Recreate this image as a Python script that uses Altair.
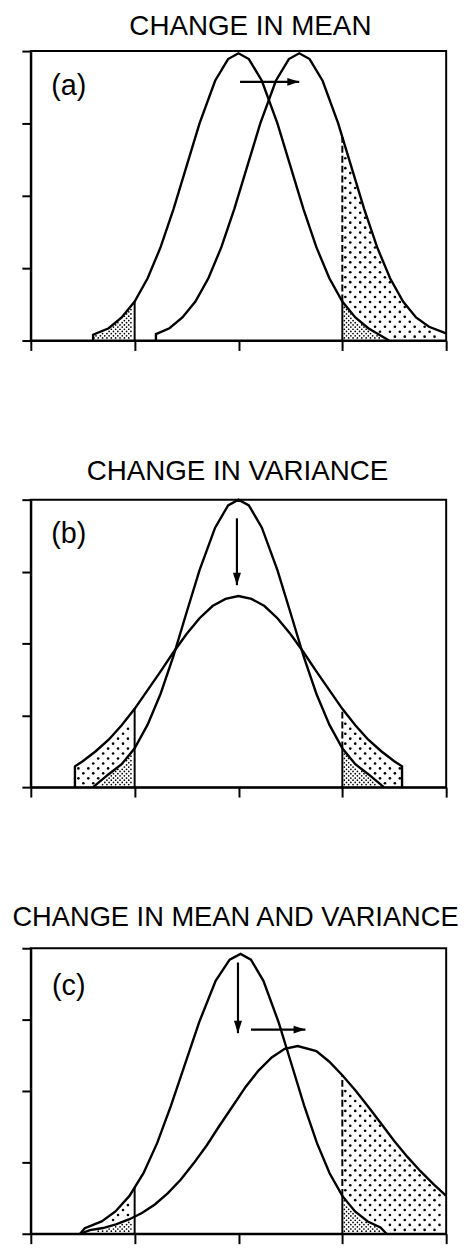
import numpy as np
import pandas as pd
import altair as alt

# ---------------- values ----------------
# x in units (ticks at -4,-2,0,2,4; shaded tails beyond +-2), y in axis units (ticks 0..4)
TITLES = ["CHANGE IN MEAN", "CHANGE IN VARIANCE", "CHANGE IN MEAN AND VARIANCE"]
LABELS = ["(a)", "(b)", "(c)"]
X_TICKS = [-4, -2, 0, 2, 4]
Y_TICKS = [0, 1, 2, 3, 4]
THRESH = [-2, 2]

# panel (a): original and shifted distribution
A1_x = [-2.8, -2.8, -2.5, -2.25, -2.0, -1.75, -1.5, -1.25, -1.0, -0.75, -0.45, -0.2, 0.0,
        0.2, 0.45, 0.75, 1.0, 1.25, 1.5, 1.75, 2.0, 2.25, 2.5, 2.9]
A1_y = [0.0, 0.08, 0.17, 0.32, 0.54, 0.86, 1.29, 1.82, 2.41, 3.0, 3.59, 3.89, 3.97,
        3.89, 3.59, 3.0, 2.41, 1.82, 1.29, 0.86, 0.54, 0.32, 0.17, 0.0]
A2_x = [-1.59, -1.59, -1.33, -1.08, -0.83, -0.58, -0.33, -0.08, 0.17, 0.42, 0.72, 0.97, 1.17,
        1.37, 1.62, 1.92, 2.17, 2.42, 2.67, 2.92, 3.17, 3.42, 3.67, 4.0]
A2_y = [0.0, 0.09, 0.17, 0.32, 0.54, 0.86, 1.29, 1.82, 2.41, 3.0, 3.59, 3.89, 3.97,
        3.89, 3.59, 3.0, 2.41, 1.82, 1.29, 0.86, 0.54, 0.32, 0.19, 0.10]

# panel (b): narrow and wide distribution
B1_x = [-2.8, -2.5, -2.25, -2.0, -1.75, -1.5, -1.25, -1.0, -0.75, -0.45, -0.2, 0.0,
        0.2, 0.45, 0.75, 1.0, 1.25, 1.5, 1.75, 2.0, 2.25, 2.5, 2.8]
B1_y = [0.0, 0.18, 0.32, 0.54, 0.87, 1.30, 1.83, 2.43, 3.02, 3.61, 3.92, 4.0,
        3.92, 3.61, 3.02, 2.43, 1.83, 1.30, 0.87, 0.54, 0.32, 0.18, 0.0]
B2_x = [-3.15, -3.15, -3.0, -2.75, -2.5, -2.25, -2.0, -1.75, -1.5, -1.25, -1.0, -0.75,
        -0.5, -0.25, 0.0, 0.25, 0.5, 0.75, 1.0, 1.25, 1.5, 1.75, 2.0, 2.25, 2.5, 2.75,
        3.0, 3.15, 3.15]
B2_y = [0.0, 0.29, 0.36, 0.50, 0.66, 0.86, 1.09, 1.35, 1.61, 1.88, 2.13, 2.35,
        2.52, 2.62, 2.66, 2.62, 2.52, 2.35, 2.13, 1.88, 1.61, 1.35, 1.09, 0.86, 0.66, 0.50,
        0.36, 0.29, 0.0]

# panel (c): narrow distribution and shifted wide distribution
C1_x = [-3.05, -2.96, -2.635, -2.37, -2.10, -1.83, -1.565, -1.30, -1.03, -0.76, -0.44, -0.17,
        0.04, 0.24, 0.48, 0.775, 1.02, 1.265, 1.51, 1.755, 2.0, 2.245, 2.49, 2.735, 2.85]
C1_y = [0.0, 0.078, 0.172, 0.312, 0.530, 0.848, 1.273, 1.795, 2.378, 2.959, 3.543, 3.84,
        3.92, 3.84, 3.543, 2.959, 2.378, 1.795, 1.273, 0.848, 0.530, 0.312, 0.172, 0.089, 0.0]
C2_x = [-3.05, -2.86, -2.61, -2.36, -2.11, -1.86, -1.61, -1.36, -1.11, -0.86, -0.61, -0.36,
        -0.11, 0.14, 0.39, 0.64, 0.89, 1.14, 1.5, 1.75, 2.0, 2.25, 2.5, 2.75, 3.0, 3.25,
        3.5, 3.75, 4.0]
C2_y = [0.0, 0.05, 0.08, 0.13, 0.20, 0.29, 0.41, 0.57, 0.76, 0.99, 1.24, 1.52,
        1.79, 2.06, 2.29, 2.47, 2.59, 2.63, 2.56, 2.41, 2.22, 2.01, 1.78, 1.54, 1.30, 1.08,
        0.88, 0.70, 0.53]

# arrows (data units): start x, start y, tip x, tip y
ARROWS_A = {"x": [0.03], "y": [3.575], "x2": [1.17], "y2": [3.575]}
ARROWS_B = {"x": [-0.03], "y": [3.74], "x2": [-0.03], "y2": [2.81]}
ARROWS_C = {"x": [-0.01, 0.24], "y": [3.80, 2.86], "x2": [-0.01, 1.29], "y2": [2.81, 2.86]}

# label anchor (data units)
LABEL_X = [-3.27, -3.27, -3.27]
LABEL_Y = [3.52, 3.52, 3.47]

# ---------------- drawing ----------------
FONT = "Liberation Sans"
W = 419
HEIGHTS = [292, 290, 288]
TITLE_SIZE = [28, 28, 27.5]
TITLE_DX = [12, -1, -3]
TITLE_OFF = [8, 9.5, 16]

HEAD_RIGHT = "M0,0L-2,-0.65L-2,0.65Z"
HEAD_DOWN = "M0,0L-0.65,-2L0.65,-2Z"


def curve_fn(cx, cy):
    cx = np.asarray(cx, float)
    cy = np.asarray(cy, float)
    return lambda xs: np.interp(xs, cx, cy, left=0.0, right=0.0)


def zero_fn(xs):
    return np.zeros_like(np.asarray(xs, float))


def stipple(x_lo, x_hi, bottom, top, dx_px, dy_px, ppx, ppy, gap_px):
    rows = np.arange(gap_px * 1.3 / ppy, 4.0, dy_px / ppy)
    ox, oy = [], []
    for j, yy in enumerate(rows):
        start = x_lo + gap_px / ppx + (dx_px / 2.0 / ppx if j % 2 else 0.0)
        xs = np.arange(start, x_hi - gap_px / ppx, dx_px / ppx)
        if len(xs) == 0:
            continue
        keep = (yy > bottom(xs) + gap_px / ppy) & (yy < top(xs) - gap_px / ppy)
        ox += list(xs[keep])
        oy += [float(yy)] * int(keep.sum())
    return pd.DataFrame({"x": ox, "y": oy})


x_axis = alt.Axis(values=X_TICKS, labels=False, tickSize=10, tickWidth=2, domainWidth=2,
                  domainColor="black", tickColor="black", grid=False, title=None)
y_axis = alt.Axis(values=Y_TICKS, labels=False, tickSize=9, tickWidth=2, domainWidth=2,
                  domainColor="black", tickColor="black", grid=False, title=None)
XS = alt.Scale(domain=[-4, 4], nice=False, zero=False)
YS = alt.Scale(domain=[0, 4], nice=False, zero=False)


def enc_x():
    return alt.X("x:Q", scale=XS, axis=x_axis)


def enc_y():
    return alt.Y("y:Q", scale=YS, axis=y_axis)


def panel(i, curves, tails, arrows):
    height = HEIGHTS[i]
    ppx = W / 8.0
    ppy = height / 4.0
    fns = [curve_fn(cx, cy) for cx, cy in curves]

    # stipple
    dense_parts, sparse_parts = [], []
    for (x_lo, x_hi, d_idx, s_idx) in tails:
        dtop = fns[d_idx]
        dense_parts.append(stipple(x_lo, x_hi, zero_fn, dtop, 4.4, 2.2, ppx, ppy, 2.0))
        if s_idx is not None:
            sparse_parts.append(stipple(x_lo, x_hi, dtop, fns[s_idx], 10.0, 5.0, ppx, ppy, 3.0))
    dense = pd.concat(dense_parts, ignore_index=True)
    sparse = pd.concat(sparse_parts, ignore_index=True)

    layers = [
        alt.Chart(dense).mark_circle(color="black", opacity=1, size=3).encode(x=enc_x(), y=enc_y()),
        alt.Chart(sparse).mark_circle(color="black", opacity=1, size=7).encode(x=enc_x(), y=enc_y()),
    ]

    # curves
    rows = []
    for k, (cx, cy) in enumerate(curves):
        for o, (xv, yv) in enumerate(zip(cx, cy)):
            rows.append({"x": xv, "y": yv, "c": k, "o": o})
    cdf = pd.DataFrame(rows)
    layers.append(
        alt.Chart(cdf).mark_line(color="black", strokeWidth=2.4).encode(
            x=enc_x(), y=enc_y(), detail="c:N", order="o:Q")
    )

    # threshold lines
    solid, dashed = [], []
    for t in THRESH:
        hs = [float(f(np.array([t]))[0]) for f in fns]
        lo, hi = min(hs), max(hs)
        if t < 0:
            solid.append({"x": t, "y": 0.0, "y2": hi})
        else:
            solid.append({"x": t, "y": 0.0, "y2": lo})
            dashed.append({"x": t, "y": lo, "y2": hi})
    layers.append(
        alt.Chart(pd.DataFrame(solid)).mark_rule(color="black", strokeWidth=2).encode(
            x=enc_x(), y=enc_y(), y2="y2:Q")
    )
    layers.append(
        alt.Chart(pd.DataFrame(dashed)).mark_rule(color="black", strokeWidth=2, strokeDash=[7, 3]).encode(
            x=enc_x(), y=enc_y(), y2="y2:Q")
    )

    # arrows
    adf = pd.DataFrame(arrows)
    layers.append(
        alt.Chart(adf).mark_rule(color="black", strokeWidth=2.2).encode(
            x=enc_x(), y=enc_y(), x2="x2:Q", y2="y2:Q")
    )
    hr = adf[adf["y"] == adf["y2"]]
    hd = adf[adf["x"] == adf["x2"]]
    if len(hr):
        layers.append(
            alt.Chart(hr).mark_point(shape=HEAD_RIGHT, filled=True, size=144, color="black",
                                     opacity=1, strokeWidth=0).encode(
                x=alt.X("x2:Q", scale=XS, axis=x_axis), y=alt.Y("y2:Q", scale=YS, axis=y_axis))
        )
    if len(hd):
        layers.append(
            alt.Chart(hd).mark_point(shape=HEAD_DOWN, filled=True, size=156, color="black",
                                     opacity=1, strokeWidth=0).encode(
                x=alt.X("x2:Q", scale=XS, axis=x_axis), y=alt.Y("y2:Q", scale=YS, axis=y_axis))
        )

    # panel label
    ldf = pd.DataFrame({"x": [LABEL_X[i]], "y": [LABEL_Y[i]], "t": [LABELS[i]]})
    layers.append(
        alt.Chart(ldf).mark_text(font=FONT, fontSize=29, align="center", baseline="middle",
                                 color="black").encode(x=enc_x(), y=enc_y(), text="t:N")
    )

    return alt.layer(*layers).properties(
        width=W, height=height,
        title=alt.Title(text=TITLES[i], font=FONT, fontSize=TITLE_SIZE[i], fontWeight="normal",
                        color="black", anchor="middle", frame="group", dx=TITLE_DX[i],
                        offset=TITLE_OFF[i]),
    )


pa = panel(0, [(A1_x, A1_y), (A2_x, A2_y)],
           [(-4, -2, 0, None), (2, 4, 0, 1)], ARROWS_A)
pb = panel(1, [(B1_x, B1_y), (B2_x, B2_y)],
           [(-4, -2, 0, 1), (2, 4, 0, 1)], ARROWS_B)
pc = panel(2, [(C1_x, C1_y), (C2_x, C2_y)],
           [(-4, -2, 1, 0), (2, 4, 0, 1)], ARROWS_C)

chart = (
    alt.vconcat(pa, pb, pc, spacing=104.5)
    .resolve_scale(x="independent", y="independent")
    .configure_view(stroke="black", strokeWidth=2)
    .properties(padding={"left": 2, "top": -2, "right": 5, "bottom": 5}, background="white")
)

chart.save("out.html", embed_options={"renderer": "svg", "actions": False})
